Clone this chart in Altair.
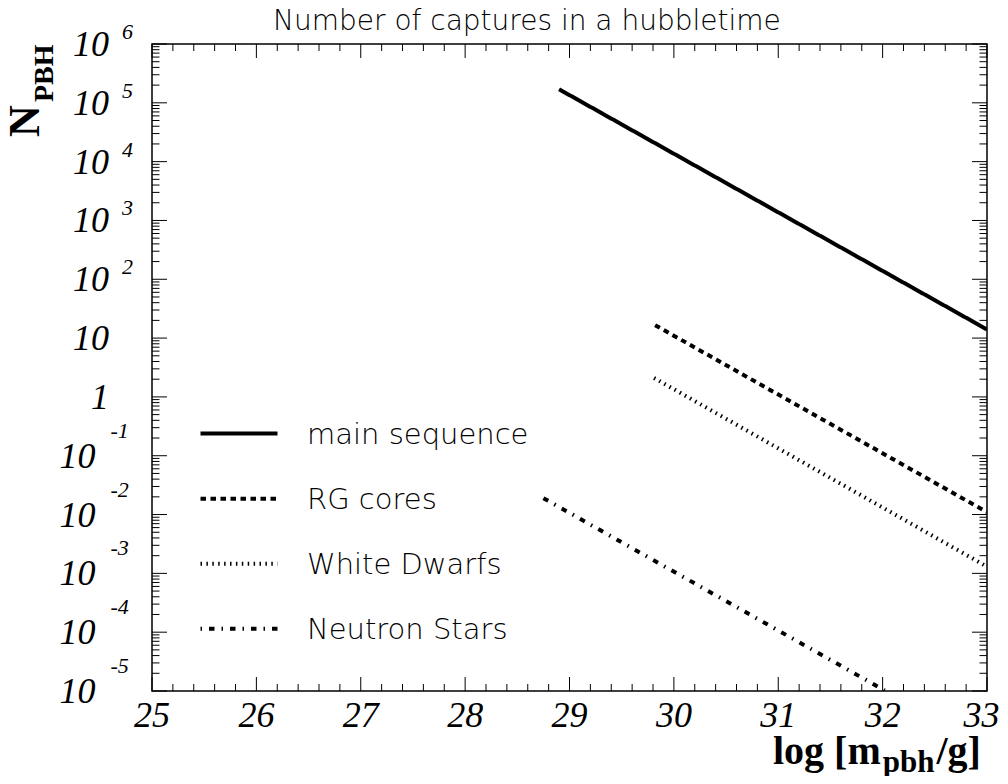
import altair as alt
import pandas as pd

# ---------------- data ----------------
series = ["main sequence", "RG cores", "White Dwarfs", "Neutron Stars"]
x_start = [28.90, 29.82, 29.81, 28.75]
x_end = [33.00, 33.00, 33.00, 32.02]
n_start = [1.7e5, 16.6, 2.1, 1.9e-2]
n_end = [14.0, 1.1e-2, 1.3e-3, 1.02e-5]

x_tick_values = [25, 26, 27, 28, 29, 30, 31, 32, 33]
x_tick_labels = ["25", "26", "27", "28", "29", "30", "31", "32", "33"]
y_tick_values = [1e6, 1e5, 1e4, 1e3, 1e2, 1e1, 1e0, 1e-1, 1e-2, 1e-3, 1e-4, 1e-5]
y_base_labels = ["10", "10", "10", "10", "10", "10", "1", "10", "10", "10", "10", "10"]
y_exp_labels = ["6", "5", "4", "3", "2", "", "", "-1", "-2", "-3", "-4", "-5"]

title_text = "Number of captures in a hubbletime"
x_title_parts = ["log [m", "pbh", "/g]"]
y_title_parts = ["N", "PBH"]

# ---------------- styles / layout ----------------
W, H = 835, 647
PAD_R = 13
SERIF = "Liberation Serif"
SANS = "DejaVu Sans"
dash_range = [[1, 0], [5.5, 4.5], [1.5, 4.4], [5.5, 7, 1.5, 7]]

x_scale = alt.Scale(domain=[25, 33], nice=False, zero=False)
y_scale = alt.Scale(type="log", domain=[1e-5, 1e6], nice=False)

layers = []

# curves
lines_df = pd.DataFrame({
    "series": series + series,
    "x": x_start + x_end,
    "n": n_start + n_end,
    "order": [0] * 4 + [1] * 4,
})
layers.append(
    alt.Chart(lines_df).mark_line(clip=True, color="black", strokeWidth=4, strokeCap="butt").encode(
        x=alt.X("x:Q", scale=x_scale, axis=None),
        y=alt.Y("n:Q", scale=y_scale, axis=None),
        strokeDash=alt.StrokeDash("series:N", scale=alt.Scale(domain=series, range=dash_range), legend=None),
        order="order:Q",
    )
)

# tick marks (inside, on all four sides)
x_minor = [round(25 + 0.2 * i, 1) for i in range(41) if i % 5 != 0]
y_minor = [m * 10.0 ** e for e in range(-5, 6) for m in range(2, 10)]


def x_ticks(vals, length):
    base = alt.Chart(pd.DataFrame({"v": vals})).mark_rule(color="black", strokeWidth=1)
    xx = alt.X("v:Q", scale=x_scale, axis=None)
    return [
        base.encode(x=xx, y=alt.value(H), y2=alt.value(H - length)),
        base.encode(x=xx, y=alt.value(0), y2=alt.value(length)),
    ]


def y_ticks(vals, length):
    base = alt.Chart(pd.DataFrame({"v": vals})).mark_rule(color="black", strokeWidth=1)
    yy = alt.Y("v:Q", scale=y_scale, axis=None)
    return [
        base.encode(y=yy, x=alt.value(0), x2=alt.value(length)),
        base.encode(y=yy, x=alt.value(W), x2=alt.value(W - length)),
    ]


layers += x_ticks(x_tick_values, 14) + x_ticks(x_minor, 7)
layers += y_ticks(y_tick_values, 15) + y_ticks(y_minor, 7.5)

# x tick labels (the last one is right-aligned to stay inside the page)
xlab_df = pd.DataFrame({"v": x_tick_values, "lab": x_tick_labels})
layers.append(
    alt.Chart(xlab_df.iloc[:-1]).mark_text(align="center", baseline="alphabetic", font=SERIF, fontStyle="italic",
                                           fontSize=36, color="black").encode(
        x=alt.X("v:Q", scale=x_scale, axis=None), y=alt.value(H + 36), text="lab:N")
)
layers.append(
    alt.Chart(xlab_df.iloc[-1:]).mark_text(align="right", baseline="alphabetic", font=SERIF, fontStyle="italic",
                                           fontSize=36, color="black").encode(
        x=alt.value(W + PAD_R - 0.5), y=alt.value(H + 36), text="lab:N")
)

# y tick labels
ylab_df = pd.DataFrame({"v": y_tick_values, "base": y_base_labels, "exp": y_exp_labels})
neg = ylab_df["exp"].str.startswith("-")
pos_df = ylab_df[~neg]
neg_df = ylab_df[neg]
yy = alt.Y("v:Q", scale=y_scale, axis=None)
layers.append(alt.Chart(pos_df).mark_text(align="right", baseline="alphabetic", font=SERIF, fontStyle="italic",
                                          fontSize=36, dy=12, color="black").encode(
    x=alt.value(-43), y=yy, text="base:N"))
layers.append(alt.Chart(pos_df).mark_text(align="left", baseline="alphabetic", font=SERIF, fontStyle="italic",
                                          fontSize=22, dy=-5, color="black").encode(
    x=alt.value(-30), y=yy, text="exp:N"))
layers.append(alt.Chart(neg_df).mark_text(align="right", baseline="alphabetic", font=SERIF, fontStyle="italic",
                                          fontSize=36, dy=12, color="black").encode(
    x=alt.value(-56.5), y=yy, text="base:N"))
layers.append(alt.Chart(neg_df).mark_text(align="left", baseline="alphabetic", font=SERIF, fontStyle="italic",
                                          fontSize=22, dy=-18, color="black").encode(
    x=alt.value(-41.5), y=yy, text="exp:N"))

# title
layers.append(alt.Chart(pd.DataFrame({"t": [title_text]})).mark_text(
    align="left", baseline="alphabetic", font=SANS, fontSize=28, fontWeight=200, color="black").encode(
    x=alt.value(121), y=alt.value(-14.5), text="t:N"))

# x axis title: "log [m" + subscript "pbh" + "/g]"
xt_x0 = 621
xt_sizes = [40, 31, 40]
xt_ems = [2.694, 1.668, 1.111]
xt_dy = [720, 728, 720]
xpos = xt_x0
for part, fs, em, by in zip(x_title_parts, xt_sizes, xt_ems, xt_dy):
    layers.append(alt.Chart(pd.DataFrame({"t": [part]})).mark_text(
        align="left", baseline="alphabetic", font=SERIF, fontWeight="bold", fontSize=fs, color="black").encode(
        x=alt.value(xpos), y=alt.value(by), text="t:N"))
    xpos += em * fs + 2

# y axis title: "N" + subscript "PBH", rotated
for part, fs, bx, sy in zip(y_title_parts, [44, 28], [-113, -99], [93, 58]):
    layers.append(alt.Chart(pd.DataFrame({"t": [part]})).mark_text(
        align="left", baseline="alphabetic", angle=270, font=SERIF, fontWeight="bold", fontSize=fs,
        color="black").encode(x=alt.value(bx), y=alt.value(sy), text="t:N"))

# legend (drawn inside the plot)
row_y = [389.5, 454.8, 519.8, 584.8]
dash_offsets = [0, 0, 0, 12.5]
for s, dash, off, ry in zip(series, dash_range, dash_offsets, row_y):
    one = pd.DataFrame({"t": [s]})
    layers.append(alt.Chart(one).mark_rule(color="black", strokeWidth=4, strokeCap="butt",
                                           strokeDash=dash, strokeDashOffset=off).encode(
        x=alt.value(48.5), x2=alt.value(125.5), y=alt.value(ry)))
    layers.append(alt.Chart(one).mark_text(align="left", baseline="alphabetic", font=SANS, fontSize=29,
                                           fontWeight=200, color="black").encode(
        x=alt.value(155), y=alt.value(ry + 10), text="t:N"))

chart = alt.layer(*layers).properties(
    width=W, height=H,
    autosize=alt.AutoSizeParams(type="none"),
    padding={"left": 144, "top": 36, "right": PAD_R, "bottom": 85},
    background="white",
).configure_view(stroke="black", strokeWidth=1.5)

chart.save("out.html", embed_options={"renderer": "svg", "actions": False})
